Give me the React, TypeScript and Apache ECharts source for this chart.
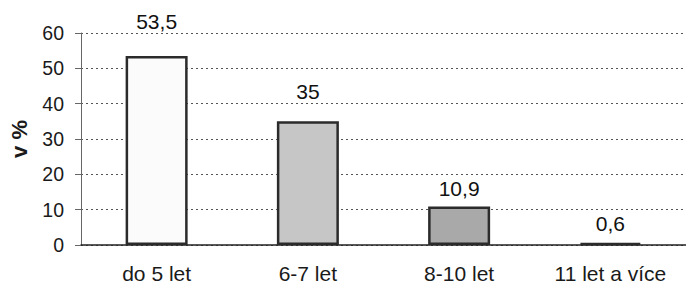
import React, { useEffect, useRef } from "react";
import * as echarts from "echarts";

const categories = ["do 5 let", "6-7 let", "8-10 let", "11 let a více"];
const values = [53.5, 35, 10.9, 0.6];
const yTicks = [0, 10, 20, 30, 40, 50, 60];
const yAxisTitle = "v %";

const barColors = ["#fbfbfb", "#c6c6c6", "#a9a9a9", "#2a2a2a"];
const labelGaps = [24, 19, 7, 9];

export default function App() {
  const ref = useRef<HTMLDivElement>(null);
  useEffect(() => {
    if (!ref.current) return;
    const chart = echarts.init(ref.current, null, { renderer: "svg" });
    const font = "'Liberation Sans', Arial, sans-serif";
    chart.setOption({
      animation: false,
      backgroundColor: "#ffffff",
      grid: { left: 81, top: 33, width: 614, height: 212, containLabel: false },
      xAxis: {
        type: "category",
        data: categories,
        axisLine: { lineStyle: { color: "#222", width: 1.5 } },
        axisTick: { show: false },
        axisLabel: { color: "#1a1a1a", fontSize: 21, fontFamily: font, margin: 18 },
      },
      yAxis: {
        type: "value",
        min: yTicks[0],
        max: yTicks[yTicks.length - 1],
        interval: yTicks[1] - yTicks[0],
        name: yAxisTitle,
        nameLocation: "middle",
        nameGap: 51,
        nameRotate: 90,
        nameTextStyle: { color: "#1a1a1a", fontSize: 22, fontWeight: "bold", fontFamily: font },
        axisLine: { show: true, lineStyle: { color: "#666", width: 1 } },
        axisTick: { show: true, length: 6, lineStyle: { color: "#666" } },
        axisLabel: { color: "#1a1a1a", fontSize: 19.5, fontFamily: font, margin: 17 },
        splitLine: { show: true, lineStyle: { color: "#555", type: [2, 3], width: 1 } },
      },
      series: [
        {
          type: "bar",
          barWidth: 62,
          data: values.map((v, i) => ({
            value: v,
            itemStyle: { color: barColors[i], borderColor: "#2b2b2b", borderWidth: 2.5 },
            label: { distance: labelGaps[i] },
          })),
          label: {
            show: true,
            position: "top",
            color: "#111",
            fontSize: 21,
            fontFamily: font,
            formatter: (p: any) => String(p.value).replace(".", ","),
          },
        },
      ],
    });
    return () => chart.dispose();
  }, []);
  return <div ref={ref} style={{ width: 686, height: 287, position: "absolute", left: 0, top: 0 }} />;
}
